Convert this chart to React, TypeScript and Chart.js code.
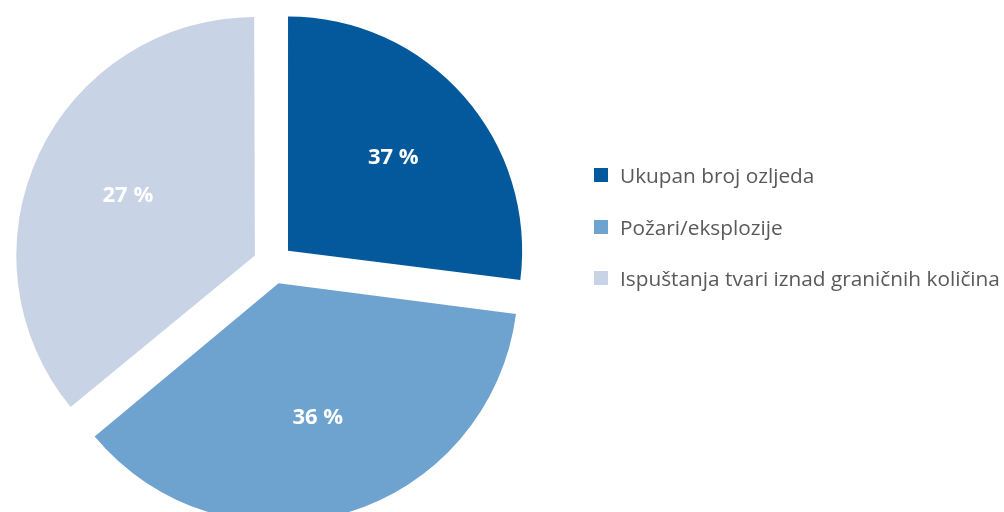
import React, { useEffect, useRef } from "react";
import { Chart, registerables } from "chart.js";

Chart.register(...registerables);

const categories = [
  "Ukupan broj ozljeda",
  "Požari/eksplozije",
  "Ispuštanja tvari iznad graničnih količina",
];
// slice sizes as drawn in the reference (percent)
const sliceValues = [27, 37, 36];
// printed labels as shown in the reference
const sliceLabels = ["37 %", "36 %", "27 %"];
const sliceColors = ["#03599c", "#6fa3cf", "#c8d4e6"];

const OFFSET = 80;

const sliceLabelPlugin = {
  id: "sliceLabelPlugin",
  afterDatasetsDraw(chart: any) {
    const ctx = chart.ctx;
    const meta = chart.getDatasetMeta(0);
    ctx.save();
    ctx.font = "bold 22px 'Open Sans'";
    ctx.fillStyle = "#ffffff";
    ctx.textAlign = "center";
    ctx.textBaseline = "middle";
    meta.data.forEach((arc: any, i: number) => {
      const { x, y, startAngle, endAngle, outerRadius } = arc.getProps(
        ["x", "y", "startAngle", "endAngle", "outerRadius"],
        true
      );
      const mid = (startAngle + endAngle) / 2;
      const r = outerRadius * 0.6 + OFFSET / 4;
      ctx.fillText(sliceLabels[i], x + Math.cos(mid) * r, y + Math.sin(mid) * r);
    });
    ctx.restore();
  },
};

export default function App() {
  const canvasRef = useRef<HTMLCanvasElement | null>(null);

  useEffect(() => {
    if (!canvasRef.current) return;
    const chart = new Chart(canvasRef.current, {
      type: "pie",
      data: {
        labels: categories,
        datasets: [
          {
            data: sliceValues,
            backgroundColor: sliceColors,
            borderWidth: 0,
            offset: OFFSET,
            radius: 234,
            clip: false,
          } as any,
        ],
      },
      options: {
        responsive: false,
        animation: false,
        layout: { padding: { left: 2, right: 460, top: 16, bottom: 0 } },
        plugins: {
          legend: { display: false },
          tooltip: { enabled: false },
        },
      },
      plugins: [sliceLabelPlugin],
    });
    return () => chart.destroy();
  }, []);

  const legendTops = [175, 227, 278];

  return (
    <div
      style={{
        position: "fixed",
        left: 0,
        top: 0,
        width: 1004,
        height: 512,
        background: "#ffffff",
        overflow: "hidden",
      }}
    >
      <canvas ref={canvasRef} width={1004} height={512} />
      {categories.map((c, i) => (
        <div
          key={c}
          style={{
            position: "absolute",
            left: 594,
            top: legendTops[i] - 15,
            height: 30,
            display: "flex",
            alignItems: "center",
            whiteSpace: "nowrap",
            fontFamily: "'Open Sans', sans-serif",
            fontSize: 20.8,
            color: "#595959",
          }}
        >
          <span
            style={{
              display: "inline-block",
              width: 14,
              height: 14,
              background: sliceColors[i],
              marginRight: 12,
            }}
          />
          <span>{c}</span>
        </div>
      ))}
    </div>
  );
}
